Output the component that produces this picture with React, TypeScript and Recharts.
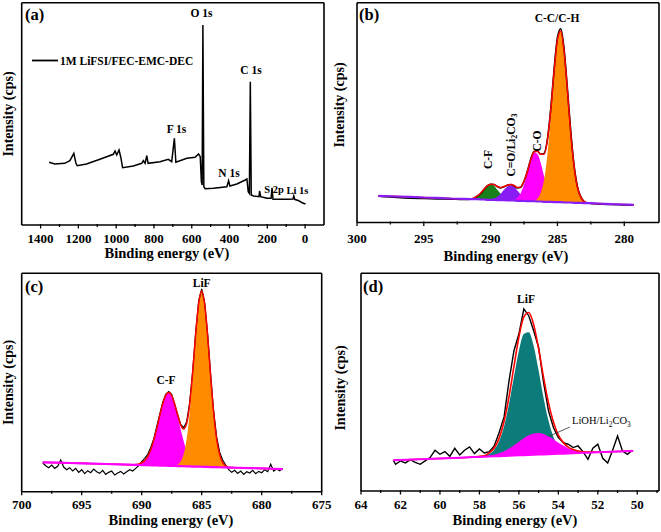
import React from 'react';
import { ComposedChart, Line, Area, XAxis, YAxis } from 'recharts';

const W = 661;
const H = 532;
const SERIF = '"Liberation Serif", "Times New Roman", serif';

// (a) survey spectrum: binding energy (eV) / intensity (a.u.)
const aE = [1355, 1325, 1272, 1245, 1224, 1213, 1206, 1157, 1086, 1015, 1006, 997, 985, 976, 966, 909, 865, 856, 847, 838, 831, 768, 724, 706, 692, 684, 626, 582, 564, 555, 549, 545, 541, 536, 529, 485, 414, 405, 398, 361, 317, 308, 301, 295, 290, 285, 273, 244, 241, 235, 202, 180, 175, 170, 95, 64, 60, 55, 34, 16, -2];
const aI = [62.7, 61, 61.7, 64.3, 71.7, 61.7, 59.3, 61, 65.7, 70.7, 74, 70, 75, 68.3, 57.3, 59, 61.7, 64.3, 61.7, 69.3, 61.7, 63.3, 65.7, 63.3, 86.7, 62.7, 66.7, 67.7, 71, 68.3, 43.3, 40, 200, 38.3, 36.3, 36.7, 38.3, 44.3, 39, 41, 45, 46, 33.3, 31.7, 143.3, 30, 29, 28.3, 34, 28.3, 26.7, 26.7, 37.3, 25.7, 25.7, 26, 29, 25.7, 24.3, 22.3, 21];

// (b) C 1s
const bE = [298.4, 297, 296, 295, 294, 293, 292,
  291.5, 291.25, 291, 290.75, 290.5, 290.25, 290, 289.75, 289.5, 289.25, 289, 288.75, 288.5, 288.25, 288, 287.75, 287.5, 287.25, 287, 286.75, 286.5, 286.25, 286, 285.75, 285.5, 285.25, 285, 284.75, 284.5, 284.25, 284, 283.75, 283.5, 283.25, 283, 282.75,
  282.5, 282, 281, 280, 279.3];
const bBase = [80, 78, 77, 75, 74, 72, 71,
  70, 70, 70, 69, 69, 68, 68, 68, 67, 67, 67, 66, 66, 66, 65, 65, 65, 64, 64, 64, 63, 63, 62, 62, 62, 61, 61, 61, 60, 60, 60, 59, 59, 59, 58, 58,
  58, 57, 55, 54, 53];
const bCF = [0, 0, 0, 0, 0, 0, 0,
  1, 4, 10, 19, 31, 42, 46, 42, 31, 19, 10, 4, 1, 0, 0, 0, 0, 0, 0, 0, 0, 0, 0, 0, 0, 0, 0, 0, 0, 0, 0, 0, 0, 0, 0, 0,
  0, 0, 0, 0, 0];
const bCO3 = [0, 0, 0, 0, 0, 0, 0,
  0, 0, 0, 0, 0, 0, 1, 4, 10, 19, 31, 42, 46, 42, 31, 19, 10, 4, 1, 0, 0, 0, 0, 0, 0, 0, 0, 0, 0, 0, 0, 0, 0, 0, 0, 0,
  0, 0, 0, 0, 0];
const bCO = [0, 0, 0, 0, 0, 0, 0,
  0, 0, 0, 0, 0, 0, 0, 0, 0, 0, 0, 0, 1, 3, 9, 23, 49, 85, 123, 146, 143, 116, 77, 43, 19, 7, 2, 0, 0, 0, 0, 0, 0, 0, 0, 0,
  0, 0, 0, 0, 0];
const bCC = [0, 0, 0, 0, 0, 0, 0,
  0, 0, 0, 0, 0, 0, 0, 0, 0, 0, 0, 0, 0, 0, 0, 0, 0, 0, 0, 2, 8, 26, 66, 142, 256, 386, 486, 514, 453, 334, 206, 107, 46, 17, 5, 1,
  0, 0, 0, 0, 0];
const bRaw = [79, 75, 73, 72, 71, 70, 69,
  70, 73, 79, 87, 99, 110, 115, 114, 108, 104, 107, 112, 114, 110, 104, 106, 124, 154, 190, 213, 214, 205, 207, 250, 342, 460, 556, 582, 520, 400, 272, 170, 107, 77, 63, 59,
  57, 56, 54, 53, 52];

// (c) F 1s
const cE = [698.25, 697, 696, 695, 694, 693, 692, 691,
  690.75, 690.5, 690.25, 690, 689.75, 689.5, 689.25, 689, 688.75, 688.5, 688.25, 688, 687.75, 687.5, 687.25, 687, 686.75, 686.5, 686.25, 686, 685.75, 685.5, 685.25, 685, 684.75, 684.5, 684.25, 684, 683.75, 683.5, 683.25, 683, 682.75, 682.5,
  682, 681, 680, 679, 678.25];
const cBase = [88, 87, 86, 85, 84, 83, 82, 81,
  80.5, 80.3, 80, 79.8, 79.5, 79.3, 79, 78.8, 78.5, 78.3, 78, 77.8, 77.5, 77.3, 77, 76.8, 76.5, 76.3, 76, 75.8, 75.5, 75.3, 75, 74.8, 74.5, 74.3, 74, 73.8, 73.5, 73.3, 73, 72.8, 72.5, 72.3,
  71.8, 70.8, 69.8, 68.8, 68];
const cCF = [0, 0, 0, 0, 0, 0, 0, 0,
  0, 1, 3, 7, 14, 26, 46, 75, 110, 149, 185, 211, 220, 211, 185, 149, 110, 75, 46, 26, 14, 7, 3, 1, 0, 0, 0, 0, 0, 0, 0, 0, 0, 0,
  0, 0, 0, 0, 0];
const cLiF = [0, 0, 0, 0, 0, 0, 0, 0,
  0, 0, 0, 0, 0, 0, 0, 0, 0, 0, 0, 0, 0, 0, 1, 5, 14, 37, 83, 161, 270, 391, 488, 526, 488, 391, 270, 161, 83, 37, 14, 5, 1, 0,
  0, 0, 0, 0, 0];
const cRawE = [698.25, 698, 697.75, 697.5, 697.25, 697, 696.75, 696.5, 696.25, 696, 695.75, 695.5, 695.25, 695, 694.75, 694.5, 694.25, 694, 693.75, 693.5, 693.25, 693, 692.75, 692.5, 692.25, 692, 691.75, 691.5, 691.25, 691, 690.75, 690.5, 690.25, 690, 689.75, 689.5, 689.25, 689, 688.75, 688.5, 688.25, 688, 687.75, 687.5, 687.25, 687, 686.75, 686.5, 686.25, 686, 685.75, 685.5, 685.25, 685, 684.75, 684.5, 684.25, 684, 683.75, 683.5, 683.25, 683, 682.75, 682.5, 682.25, 682, 681.75, 681.5, 681.25, 681, 680.75, 680.5, 680.25, 680, 679.75, 679.5, 679.25, 679, 678.75, 678.5, 678.25];
const cRaw = [86, 78, 72, 80, 70, 76, 95, 74, 66, 72, 62, 70, 58, 66, 54, 63, 57, 68, 60, 55, 64, 52, 58, 62, 50, 56, 61, 53, 60, 66, 62, 70, 78, 90, 100, 112, 132, 158, 195, 232, 268, 292, 300, 292, 262, 230, 202, 192, 210, 268, 362, 478, 572, 608, 566, 470, 348, 240, 163, 118, 95, 80, 66, 58, 64, 55, 62, 52, 60, 56, 64, 54, 61, 57, 66, 60, 82, 62, 68, 63, 70];

// (d) Li 1s
const dE = [62.36, 61, 60, 59,
  58.5, 58.25, 58, 57.75, 57.5, 57.25, 57, 56.75, 56.5, 56.25, 56, 55.75, 55.5, 55.25, 55, 54.75, 54.5, 54.25, 54, 53.75, 53.5, 53.25, 53, 52.75, 52.5,
  52, 51, 50.21];
const dBase = [92, 95.2, 97.5, 99.8,
  100.9, 101.5, 102.1, 102.7, 103.2, 103.8, 104.4, 105, 105.5, 106.1, 106.7, 107.3, 107.8, 108.4, 109, 109.6, 110.1, 110.7, 111.3, 111.9, 112.4, 113, 113.6, 114.2, 114.7,
  115.9, 118.2, 120];
const dLiF = [0, 0, 0, 0,
  0, 0, 1, 2, 8, 20, 45, 89, 155, 236, 313, 363, 368, 326, 252, 170, 101, 52, 23, 9, 3, 1, 0, 0, 0,
  0, 0, 0];
const dLiOH = [0, 0, 0, 0,
  0, 0, 1, 1, 3, 5, 9, 14, 22, 31, 41, 51, 59, 64, 65, 61, 53, 44, 33, 24, 16, 10, 6, 3, 2,
  1, 0, 0];
const dRawE = [62.36, 62.25, 62, 61.75, 61.5, 61.25, 61, 60.75, 60.5, 60.25, 60, 59.75, 59.5, 59.25, 59, 58.75, 58.5, 58.25, 58, 57.75, 57.5, 57.25, 57, 56.75, 56.5, 56.25, 56, 55.75, 55.5, 55.25, 55, 54.75, 54.5, 54.25, 54, 53.75, 53.5, 53.25, 53, 52.75, 52.5, 52.25, 52, 51.75, 51.5, 51.25, 51, 50.75, 50.5, 50.25];
const dRaw = [92, 80, 90, 84, 94, 86, 80, 90, 100, 122, 110, 118, 104, 128, 108, 122, 132, 112, 126, 114, 118, 135, 175, 222, 330, 420, 470, 545, 525, 480, 430, 325, 240, 190, 160, 145, 140, 130, 135, 118, 95, 128, 140, 98, 84, 122, 165, 120, 110, 122];

// axis ticks
const aMajor = [1400, 1200, 1000, 800, 600, 400, 200, 0];
const aMinor = [1300, 1100, 900, 700, 500, 300, 100];
const bMajor = [300, 295, 290, 285, 280];
const bMinor = [297.5, 292.5, 287.5, 282.5];
const cMajor = [700, 695, 690, 685, 680, 675];
const cMinor = [697.5, 692.5, 687.5, 682.5, 677.5];
const dMajor = [64, 62, 60, 58, 56, 54, 52, 50];
const dMinor = [63, 61, 59, 57, 55, 53, 51, 49];

const aData = aE.map((e, k) => ({ e, i: aI[k] }));
const bData = bE.map((e, k) => {
  const base = bBase[k];
  return {
    e,
    base,
    raw: bRaw[k],
    cf: [base, base + bCF[k]],
    co3: [base, base + bCO3[k]],
    co: [base, base + bCO[k]],
    cc: [base, base + bCC[k]],
    env: base + bCF[k] + bCO3[k] + bCO[k] + bCC[k],
  };
});
const cData = cE.map((e, k) => {
  const base = cBase[k];
  return {
    e,
    base,
    cf: [base, base + cCF[k]],
    lif: [base, base + cLiF[k]],
    env: base + cCF[k] + cLiF[k],
  };
});
const cRawData = cRawE.map((e, k) => ({ e, raw: cRaw[k] }));
const dData = dE.map((e, k) => {
  const base = dBase[k];
  return {
    e,
    base,
    lif: [base, base + dLiF[k]],
    lioh: [base, base + dLiOH[k]],
    env: base + dLiF[k] + dLiOH[k],
  };
});
const dRawData = dRawE.map((e, k) => ({ e, raw: dRaw[k] }));

const frameLine = { stroke: '#000', strokeWidth: 1.6 };

const makeTick = (majors: number[], labelDy: number) => (props: any) => {
  const { x, y, payload } = props;
  const major = majors.includes(payload.value);
  return (
    <g>
      <line x1={x} x2={x} y1={y - 1} y2={y + (major ? 3.5 : 2)} stroke="#000" strokeWidth={1.3} />
      {major && (
        <text
          x={x}
          y={y + labelDy}
          textAnchor="middle"
          fontFamily={SERIF}
          fontWeight="bold"
          fontSize={13}
          fill="#000"
        >
          {payload.value}
        </text>
      )}
    </g>
  );
};

interface PanelProps {
  data: any[];
  // outer edges of the plot frame in page pixels
  frame: { top: number; left: number; right: number; bottom: number };
  domain: [number, number];
  majors: number[];
  minors: number[];
  yMax: number;
  labelDy: number;
  children: React.ReactNode;
}

function Panel({ data, frame, domain, majors, minors, yMax, labelDy, children }: PanelProps) {
  // each axis takes 1px so that recharts draws it
  const margin = {
    top: frame.top - 1,
    left: frame.left - 1,
    right: W - frame.right - 1,
    bottom: H - frame.bottom - 1,
  };
  return (
    <div style={{ position: 'absolute', left: 0, top: 0 }}>
      <ComposedChart width={W} height={H} data={data} margin={margin}>
        <XAxis
          type="number"
          dataKey="e"
          domain={domain}
          reversed
          allowDataOverflow
          ticks={[...majors, ...minors]}
          interval={0}
          tickSize={0}
          tickMargin={0}
          tickLine={false}
          height={1}
          axisLine={frameLine}
          tick={makeTick(majors, labelDy)}
        />
        <XAxis
          xAxisId="top"
          orientation="top"
          type="number"
          domain={domain}
          reversed
          allowDataOverflow
          tick={false}
          tickLine={false}
          height={1}
          axisLine={frameLine}
        />
        <YAxis type="number" domain={[0, yMax]} allowDataOverflow tick={false} tickLine={false} width={1} axisLine={frameLine} />
        <YAxis
          yAxisId="r"
          orientation="right"
          type="number"
          domain={[0, yMax]}
          allowDataOverflow
          tick={false}
          tickLine={false}
          width={1}
          axisLine={frameLine}
        />
        {children}
      </ComposedChart>
    </div>
  );
}

const txt = (x: number, y: number, s: React.ReactNode, size = 11.5, anchor = 'middle', weight = 'bold') => (
  <text x={x} y={y} textAnchor={anchor as any} fontFamily={SERIF} fontWeight={weight} fontSize={size} fill="#000">
    {s}
  </text>
);

const vtxt = (x: number, y: number, s: React.ReactNode, size = 11.5) => (
  <text
    x={x}
    y={y}
    transform={`rotate(-90 ${x} ${y})`}
    textAnchor="middle"
    fontFamily={SERIF}
    fontWeight="bold"
    fontSize={size}
    fill="#000"
  >
    {s}
  </text>
);

// "Li2CO3" with subscripts
const li2co3 = (
  <>
    <tspan>Li</tspan>
    <tspan dy={2.5} fontSize="0.7em">2</tspan>
    <tspan dy={-2.5}>CO</tspan>
    <tspan dy={2.5} fontSize="0.7em">3</tspan>
  </>
);

function Labels() {
  return (
    <svg width={W} height={H} style={{ position: 'absolute', left: 0, top: 0, pointerEvents: 'none' }}>
      {/* (a) */}
      {txt(25, 19.5, '(a)', 16.5, 'start')}
      <line x1={32} x2={58} y1={60.5} y2={60.5} stroke="#000" strokeWidth={1.8} />
      {txt(60, 64.5, '1M LiFSI/FEC-EMC-DEC', 11.5, 'start')}
      {txt(201.5, 16.7, 'O 1s')}
      {txt(251, 74, 'C 1s')}
      {txt(176.5, 133.3, 'F 1s')}
      {txt(229, 176.7, 'N 1s')}
      {txt(274, 192.8, 'S 2p', 10.5)}
      {txt(297.5, 194.3, 'Li 1s', 10.5)}
      {txt(167, 258, 'Binding energy (eV)', 14.5)}
      {vtxt(12.5, 114, 'Intensity (cps)', 14)}

      {/* (b) */}
      {txt(359, 19.5, '(b)', 16.5, 'start')}
      {txt(557, 22, 'C-C/C-H')}
      {vtxt(492, 159.5, 'C-F')}
      {vtxt(514.5, 145, <>C=O/{li2co3}</>)}
      {vtxt(540.5, 141, 'C-O')}
      {txt(506, 261, 'Binding energy (eV)', 14.5)}
      {vtxt(344, 105, 'Intensity (cps)', 14)}

      {/* (c) */}
      {txt(25, 291.5, '(c)', 16.5, 'start')}
      {txt(201.7, 286.5, 'LiF')}
      {txt(166, 383.5, 'C-F')}
      {txt(171, 525, 'Binding energy (eV)', 14.5)}
      {vtxt(12.5, 382.5, 'Intensity (cps)', 14)}

      {/* (d) */}
      {txt(363, 291.5, '(d)', 16.5, 'start')}
      {txt(526, 302.5, 'LiF')}
      {txt(572, 424, <>LiOH/{li2co3}</>, 10.5, 'start', 'normal')}
      <line x1={570} y1={427} x2={548.5} y2={436.5} stroke="#333" strokeWidth={0.8} />
      {txt(515, 525, 'Binding energy (eV)', 14.5)}
      {vtxt(345, 388, 'Intensity (cps)', 14)}
    </svg>
  );
}

export default function App() {
  return (
    <div style={{ position: 'absolute', left: 0, top: 0, width: W, height: H, background: '#fff', overflow: 'hidden' }}>
      <Panel
        data={aData}
        frame={{ top: 2.7, left: 21.7, right: 324, bottom: 225 }}
        domain={[-100, 1500]}
        majors={aMajor}
        minors={aMinor}
        yMax={222.3}
        labelDy={17.5}
      >
        <Line dataKey="i" type="linear" stroke="#000" strokeWidth={1.5} dot={false} isAnimationActive={false} />
      </Panel>

      <Panel
        data={bData}
        frame={{ top: 2.7, left: 357, right: 659, bottom: 222.5 }}
        domain={[277.4, 300]}
        majors={bMajor}
        minors={bMinor}
        yMax={660}
        labelDy={20.5}
      >
        <Line dataKey="raw" type="monotone" stroke="#000" strokeWidth={1.6} dot={false} isAnimationActive={false} />
        <Area dataKey="cf" type="monotone" stroke="none" fill="#17801a" fillOpacity={1} isAnimationActive={false} />
        <Area dataKey="co3" type="monotone" stroke="none" fill="#8a1cf5" fillOpacity={1} isAnimationActive={false} />
        <Area dataKey="co" type="monotone" stroke="none" fill="#ff00ff" fillOpacity={1} isAnimationActive={false} />
        <Line dataKey="env" type="monotone" stroke="#ff0000" strokeWidth={1.5} dot={false} isAnimationActive={false} />
        <Area dataKey="cc" type="monotone" stroke="none" fill="#ff8c00" fillOpacity={1} isAnimationActive={false} />
        <Line dataKey="base" type="linear" stroke="#8a1cf5" strokeWidth={2.2} dot={false} isAnimationActive={false} />
      </Panel>

      <Panel
        data={cData}
        frame={{ top: 273.3, left: 21.7, right: 321.7, bottom: 491.7 }}
        domain={[675, 700]}
        majors={cMajor}
        minors={cMinor}
        yMax={655}
        labelDy={17.5}
      >
        <Line data={cRawData} dataKey="raw" type="linear" stroke="#000" strokeWidth={1.2} dot={false} isAnimationActive={false} />
        <Area dataKey="cf" type="monotone" stroke="none" fill="#ff00ff" fillOpacity={1} isAnimationActive={false} />
        <Line dataKey="env" type="monotone" stroke="#ff0000" strokeWidth={1.5} dot={false} isAnimationActive={false} />
        <Area dataKey="lif" type="monotone" stroke="none" fill="#ff8c00" fillOpacity={1} isAnimationActive={false} />
        <Line dataKey="base" type="linear" stroke="#ff00ff" strokeWidth={2.2} dot={false} isAnimationActive={false} />
      </Panel>

      <Panel
        data={dData}
        frame={{ top: 273.3, left: 361, right: 659, bottom: 491 }}
        domain={[48.9, 64]}
        majors={dMajor}
        minors={dMinor}
        yMax={652}
        labelDy={17.5}
      >
        <Line data={dRawData} dataKey="raw" type="linear" stroke="#000" strokeWidth={1.4} dot={false} isAnimationActive={false} />
        <Area dataKey="lif" type="monotone" stroke="none" fill="#0e7b7b" fillOpacity={1} isAnimationActive={false} />
        <Area dataKey="lioh" type="monotone" stroke="none" fill="#ff00ff" fillOpacity={1} isAnimationActive={false} />
        <Line dataKey="env" type="monotone" stroke="#ff0000" strokeWidth={1.6} dot={false} isAnimationActive={false} />
        <Line dataKey="base" type="linear" stroke="#ff00ff" strokeWidth={2} dot={false} isAnimationActive={false} />
      </Panel>

      <Labels />
    </div>
  );
}
